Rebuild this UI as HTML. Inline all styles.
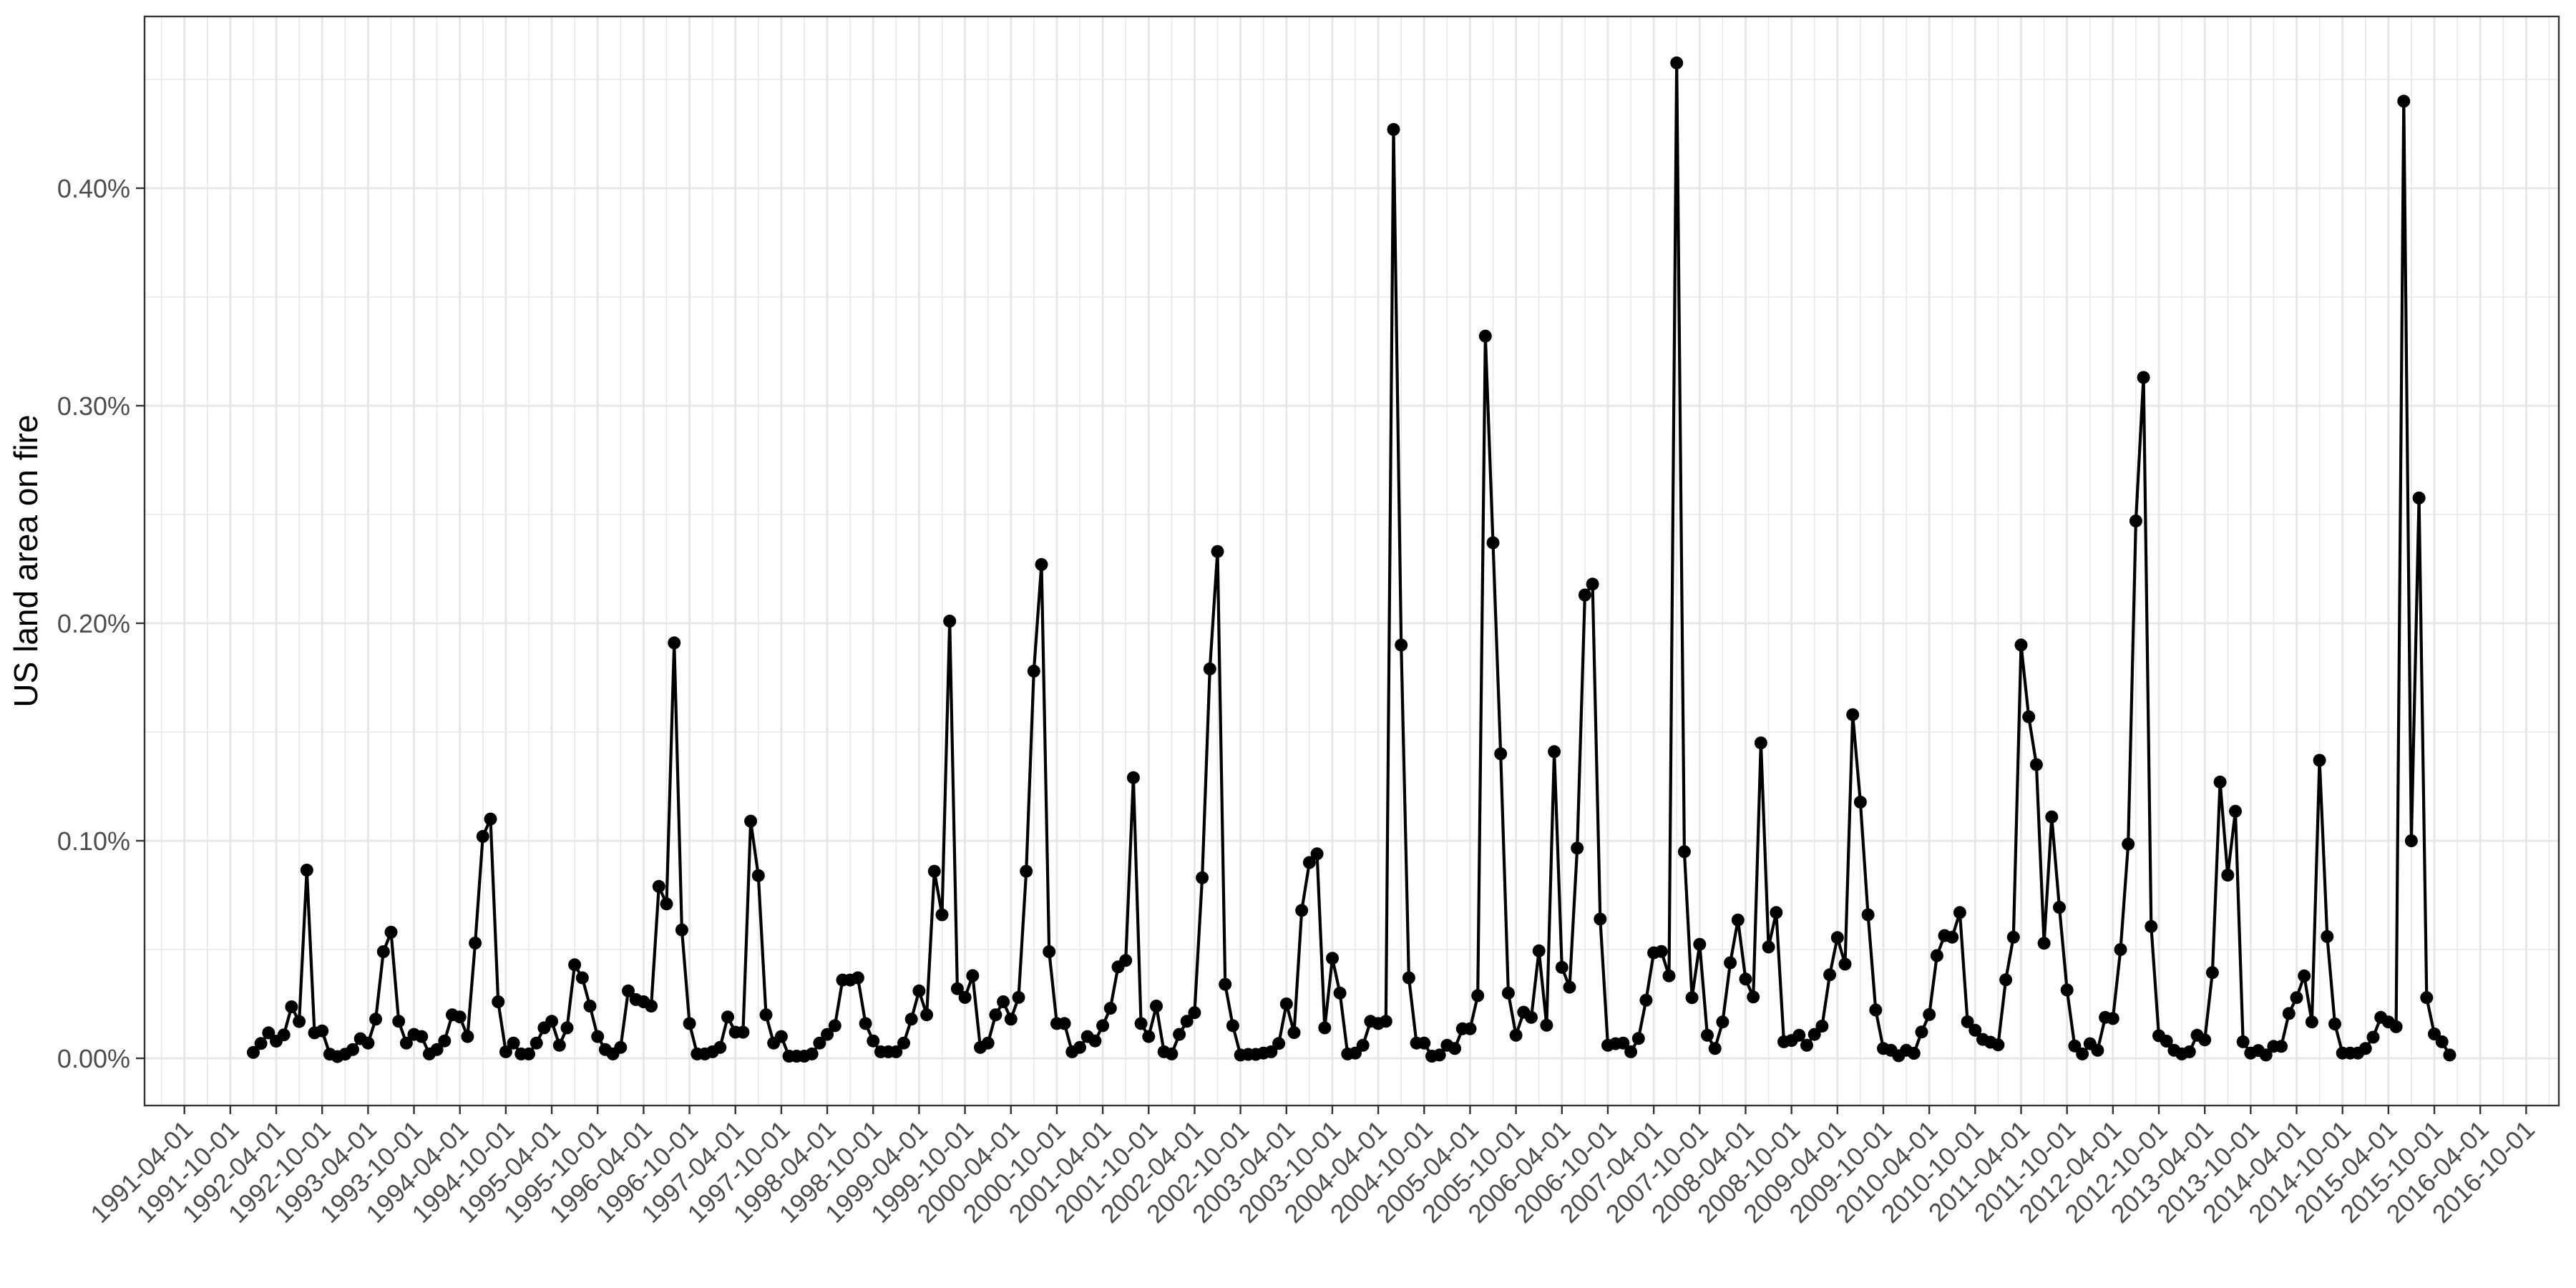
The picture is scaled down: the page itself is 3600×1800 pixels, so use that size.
<!DOCTYPE html>
<html><head><meta charset="utf-8"><style>
html,body{margin:0;padding:0;background:#fff;}
svg{display:block;}
text{font-family:"Liberation Sans",Arial,sans-serif;}
</style></head><body>
<svg id="chart" width="3600" height="1800" viewBox="0 0 3600 1800" xmlns="http://www.w3.org/2000/svg">
<rect x="0" y="0" width="3600" height="1800" fill="#fff"/>
<g id="grid"></g>
<g id="series"></g>
<rect x="202" y="23" width="3374" height="1522" fill="none" stroke="#333" stroke-width="2.4"/>
<g id="axes"></g>
<text x="0" y="0" transform="translate(52,784) rotate(-90)" text-anchor="middle" font-size="46" fill="#000">US land area on fire</text>
</svg>
<script>
const startYear = 1992;
const years = [1992,1993,1994,1995,1996,1997,1998,1999,2000,2001,2002,2003,2004,2005,2006,2007,2008,2009,2010,2011,2012,2013,2014,2015];
const v1992 = [0.0027,0.0068,0.0117,0.0079,0.0108,0.0237,0.0169,0.0865,0.0117,0.0126,0.0019,0.0008];
const v1993 = [0.0019,0.004,0.009,0.007,0.018,0.049,0.058,0.017,0.007,0.011,0.010,0.002];
const v1994 = [0.004,0.008,0.020,0.019,0.010,0.053,0.102,0.110,0.026,0.003,0.007,0.002];
const v1995 = [0.002,0.007,0.014,0.017,0.006,0.014,0.043,0.037,0.024,0.010,0.004,0.002];
const v1996 = [0.005,0.031,0.027,0.026,0.024,0.079,0.071,0.191,0.059,0.016,0.002,0.002];
const v1997 = [0.003,0.005,0.019,0.012,0.012,0.109,0.084,0.020,0.007,0.010,0.001,0.001];
const v1998 = [0.001,0.002,0.007,0.011,0.015,0.036,0.036,0.037,0.016,0.008,0.003,0.003];
const v1999 = [0.003,0.007,0.018,0.031,0.020,0.086,0.066,0.201,0.032,0.028,0.038,0.005];
const v2000 = [0.007,0.020,0.026,0.018,0.028,0.086,0.178,0.227,0.049,0.016,0.016,0.003];
const v2001 = [0.005,0.010,0.008,0.015,0.023,0.042,0.045,0.129,0.016,0.010,0.024,0.003];
const v2002 = [0.002,0.011,0.017,0.021,0.083,0.179,0.233,0.034,0.015,0.0015,0.0018,0.0018];
const v2003 = [0.0024,0.003,0.0068,0.025,0.0118,0.068,0.090,0.094,0.014,0.046,0.030,0.002];
const v2004 = [0.0024,0.006,0.017,0.016,0.017,0.427,0.190,0.037,0.007,0.007,0.001,0.0015];
const v2005 = [0.006,0.0045,0.0136,0.0136,0.0288,0.332,0.237,0.140,0.030,0.0106,0.0212,0.0188];
const v2006 = [0.0494,0.0152,0.141,0.0418,0.0327,0.0966,0.213,0.218,0.064,0.006,0.0067,0.007];
const v2007 = [0.003,0.0091,0.0267,0.0485,0.0491,0.0379,0.4576,0.095,0.0279,0.0524,0.0106,0.0045];
const v2008 = [0.0167,0.0439,0.0636,0.0364,0.0282,0.145,0.0512,0.067,0.0076,0.0082,0.0106,0.006];
const v2009 = [0.011,0.0148,0.0384,0.0555,0.0433,0.158,0.1178,0.066,0.0222,0.0045,0.0037,0.0012];
const v2010 = [0.0037,0.0023,0.0121,0.0201,0.0472,0.0564,0.0557,0.067,0.0168,0.0129,0.0087,0.0074];
const v2011 = [0.0062,0.0361,0.0557,0.190,0.157,0.135,0.0529,0.111,0.0694,0.0314,0.0057,0.002];
const v2012 = [0.0067,0.0037,0.0188,0.0183,0.050,0.0985,0.247,0.313,0.0606,0.0104,0.0079,0.0037];
const v2013 = [0.002,0.003,0.0106,0.0085,0.0394,0.127,0.0842,0.1136,0.0076,0.0024,0.0036,0.0015];
const v2014 = [0.0055,0.0055,0.0206,0.0279,0.0379,0.0167,0.137,0.056,0.0158,0.0024,0.0024,0.0024];
const v2015 = [0.0045,0.0097,0.0188,0.0167,0.0145,0.440,0.100,0.2576,0.0279,0.0112,0.0076,0.0015];
const yearValues = [v1992,v1993,v1994,v1995,v1996,v1997,v1998,v1999,v2000,v2001,v2002,v2003,v2004,v2005,v2006,v2007,v2008,v2009,v2010,v2011,v2012,v2013,v2014,v2015];
const yTicks = [0,0.1,0.2,0.3,0.4];
const yTickLabels = ["0.00%","0.10%","0.20%","0.30%","0.40%"];
const xTickLabels = [];
for (let y = 1991; y <= 2016; y++) { xTickLabels.push(y + "-04-01"); xTickLabels.push(y + "-10-01"); }

const NS = "http://www.w3.org/2000/svg";
const PL = 202, PR = 3576, PT = 23, PB = 1545;
function monthIndex(year, month0) { return (year - 1991) * 12 + month0 - 3; }
function xScale(m) { return 257.7 + m * 10.695; }
function yScale(v) { return 1479 - v * 3040; }
function mk(tag, attrs, parent) { const e = document.createElementNS(NS, tag); for (const k in attrs) e.setAttribute(k, attrs[k]); parent.appendChild(e); return e; }

const grid = document.getElementById('grid');
const axes = document.getElementById('axes');
const series = document.getElementById('series');

for (let i = 0; i < yTicks.length; i++) {
  const v = yTicks[i] + 0.05;
  const y = yScale(v);
  if (y > PT && y < PB) {
    const l = mk('line', {x1: PL, x2: PR, y1: y, y2: y, stroke: '#E8E8E8', 'stroke-width': 1.5}, grid);
    
    
  }
}
for (let i = -1; i < xTickLabels.length; i++) {
  const x = xScale(i * 6 + 3);
  if (x > PL && x < PR) {
    const l = mk('line', {x1: x, x2: x, y1: PT, y2: PB, stroke: '#E8E8E8', 'stroke-width': 1.5}, grid);
    
    
  }
}
yTicks.forEach((v, i) => {
  const y = yScale(v);
  const l = mk('line', {x1: PL, x2: PR, y1: y, y2: y, stroke: '#E6E6E6', 'stroke-width': 2.8}, grid);
  
  
  const t = mk('line', {x1: PL - 12, x2: PL, y1: y, y2: y, stroke: '#333', 'stroke-width': 2.4}, axes);
  
  
  const tx = mk('text', {x: PL - 20, y: y + 13, 'text-anchor': 'end', 'font-size': 36, fill: '#4D4D4D'}, axes);
  tx.textContent = yTickLabels[i];
  
  
});
xTickLabels.forEach((lab, i) => {
  const x = xScale(i * 6);
  const l = mk('line', {x1: x, x2: x, y1: PT, y2: PB, stroke: '#E6E6E6', 'stroke-width': 2.8}, grid);
  
  
  const t = mk('line', {x1: x, x2: x, y1: PB, y2: PB + 12, stroke: '#333', 'stroke-width': 2.4}, axes);
  
  
  const tx = mk('text', {x: 0, y: 0, 'text-anchor': 'end', 'font-size': 36, fill: '#4D4D4D', transform: 'translate(' + (x + 14) + ',' + (PB + 36) + ') rotate(-45)'}, axes);
  tx.textContent = lab;
  
  
});

const pts = [];
years.forEach((yr, yi) => {
  yearValues[yi].forEach((v, mi) => {
    pts.push([xScale(monthIndex(yr, mi)), yScale(v)]);
  });
});
const line = mk('polyline', {points: pts.map(p => p[0].toFixed(1) + ',' + p[1].toFixed(1)).join(' '), fill: 'none', stroke: '#000', 'stroke-width': 4.2, 'stroke-linejoin': 'round'}, series);


pts.forEach(p => {
  const c = mk('circle', {cx: p[0].toFixed(1), cy: p[1].toFixed(1), r: 9, fill: '#000'}, series);
  
  
});
</script>
</body></html>
